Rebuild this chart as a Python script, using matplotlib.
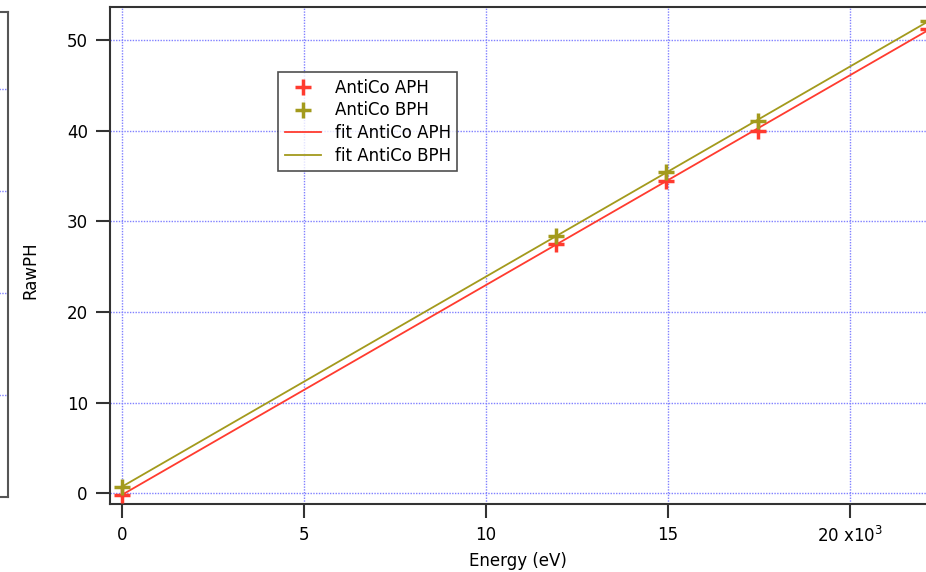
import numpy as np
import matplotlib
matplotlib.use("Agg")
import matplotlib.pyplot as plt

# Energy in units of 10^3 eV
energy = [0.0, 11.92, 14.96, 17.48, 22.16]
aph = [-0.2, 27.5, 34.5, 40.0, 51.2]
bph = [0.7, 28.4, 35.4, 41.1, 52.1]

xticks = [0, 5, 10, 15, 20]
xtick_labels = ["0", "5", "10", "15", r"20 x10$^{3}$"]
yticks = [0, 10, 20, 30, 40, 50]

red = "#ff3b2f"
olive = "#a39a1c"
grid_col = "#8080ff"
spine_col = "#333333"

plt.rcParams['font.family'] = ['DejaVu Sans']

W, H = 926, 572
fig = plt.figure(figsize=(W / 100, H / 100), dpi=100)

# partial panel on the far left (cut off by the image edge)
left_ax = fig.add_axes([-0.3, (H - 497) / H, 0.3 + 8 / W, (497 - 12) / H])
left_ax.set_ylim(0, 4.75)
left_ax.set_yticks([1, 2, 3, 4])
left_ax.set_xticks([])
left_ax.tick_params(left=False, labelleft=False)
left_ax.grid(True, axis='y', color=grid_col, linestyle=(0, (1, 1)), linewidth=1)
for s in left_ax.spines.values():
    s.set_color("#555555")
    s.set_linewidth(1.5)

# main axes
ax = fig.add_axes([110 / W, (H - 504) / H, (W - 110) / W, (504 - 7) / H])
ax.set_xlim(-0.33, 22.1)
ax.set_ylim(-1.2, 53.65)

# linear fits
e = np.array(energy)
fit_a = np.polyfit(e, aph, 1)
fit_b = np.polyfit(e, bph, 1)
xf = np.array([0.0, 22.16])

ax.plot(xf, np.polyval(fit_a, xf), color=red, lw=1.3, label="fit AntiCo APH", zorder=3)
ax.plot(xf, np.polyval(fit_b, xf), color=olive, lw=1.3, label="fit AntiCo BPH", zorder=3)
ax.plot(energy, aph, '+', color=red, ms=11, mew=2.5, ls='none', label="AntiCo APH", zorder=4)
ax.plot(energy, bph, '+', color=olive, ms=11, mew=2.5, ls='none', label="AntiCo BPH", zorder=4)

ax.set_xticks(xticks)
ax.set_xticklabels(xtick_labels)
ax.set_yticks(yticks)
ax.tick_params(direction='out', length=10, width=1.5, color=spine_col,
               labelsize=12, pad=6)
ax.grid(True, color=grid_col, linestyle=(0, (1, 1)), linewidth=1)
ax.set_axisbelow(True)

ax.spines['right'].set_visible(False)
for k in ['left', 'top', 'bottom']:
    ax.spines[k].set_color(spine_col)
    ax.spines[k].set_linewidth(1.5)

ax.set_xlabel("Energy (eV)", fontsize=12, labelpad=4)
fig.text(30 / W, 1 - 270 / H, "RawPH", rotation=90, fontsize=12,
         ha='center', va='center')

handles, labels = ax.get_legend_handles_labels()
order = [2, 3, 0, 1]
leg = ax.legend([handles[i] for i in order], [labels[i] for i in order],
                loc='upper left', bbox_to_anchor=(278 / W, 1 - 72 / H),
                bbox_transform=fig.transFigure, frameon=True, fancybox=False,
                fontsize=12, handlelength=2.2, handletextpad=0.8,
                borderpad=0.4, labelspacing=0.28, borderaxespad=0)
leg.get_frame().set_edgecolor("#222222")
leg.get_frame().set_linewidth(1.2)

fig.savefig("out.png", dpi=100)
